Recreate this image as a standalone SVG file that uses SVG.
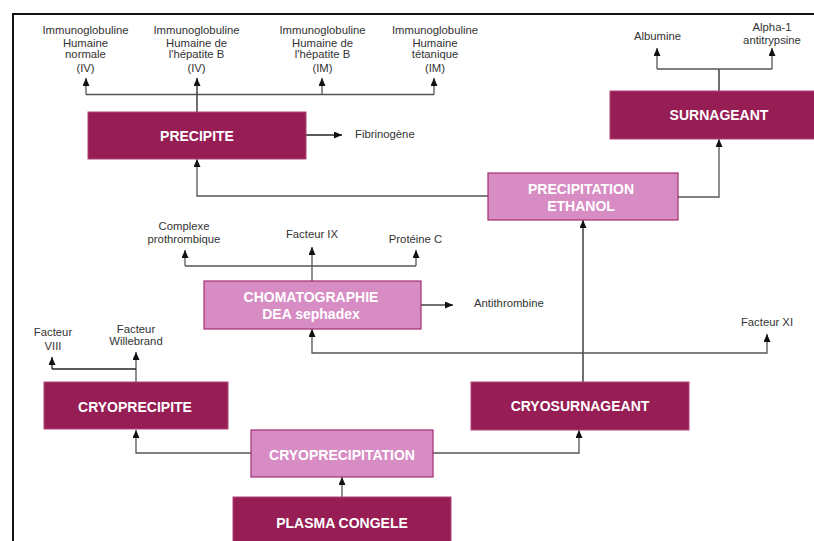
<svg xmlns="http://www.w3.org/2000/svg" width="814" height="541" viewBox="0 0 814 541">
<style>
.bg{fill:#ffffff}
.frame{fill:none;stroke:#111;stroke-width:2}
.dark{fill:#971d55;stroke:#b0457a;stroke-width:1}
.light{fill:#d78cc4;stroke:#a62d72;stroke-width:1.2}
.bt{font-family:"Liberation Sans",Arial,sans-serif;font-weight:bold;font-size:14px;fill:#ffffff;text-anchor:middle}
.lt{font-family:"Liberation Sans",Arial,sans-serif;font-size:11.3px;fill:#333333;text-anchor:middle}
.ls{text-anchor:start}
.c{fill:none;stroke:#555555;stroke-width:1.3}
.ca{fill:none;stroke:#555555;stroke-width:1.3;marker-end:url(#ah)}
.dk{stroke:#222222}
</style>
<defs>
<marker id="ah" viewBox="0 0 8 7" refX="8" refY="3.5" markerWidth="8" markerHeight="7" markerUnits="userSpaceOnUse" orient="auto">
<path d="M0,0 L8,3.5 L0,7 z" fill="#111"/>
</marker>
</defs>
<rect class="bg" x="0" y="0" width="814" height="541"/>
<path class="frame" d="M814,14 H13 V541"/>

<g id="connectors">
<!-- PRECIPITE outputs -->
<path class="c dk" d="M197,112 V94.5"/>
<path class="c" d="M86,94.5 H434"/>
<path class="ca" d="M86,94.5 V78"/>
<path class="ca dk" d="M197,94.5 V78"/>
<path class="ca" d="M322,94.5 V78"/>
<path class="ca" d="M434,94.5 V78"/>
<path class="ca dk" d="M306,135 H342"/>
<!-- SURNAGEANT outputs -->
<path class="c dk" d="M719,91 V69"/>
<path class="c" d="M657,69 H772"/>
<path class="ca" d="M657,69 V48"/>
<path class="ca" d="M772,69 V48"/>
<!-- Precipitation ethanol -->
<path class="ca" d="M678,197 H719 V139"/>
<path class="ca" d="M488,196 H197 V159"/>
<path class="ca dk" d="M583,382 V220"/>
<!-- Chromatographie outputs -->
<path class="ca" d="M312,281 V247"/>
<path class="c" d="M185,266 H416"/>
<path class="ca" d="M185,266 V250"/>
<path class="ca" d="M416,266 V250"/>
<path class="ca dk" d="M421,305 H453"/>
<path class="ca" d="M583,353 H312 V329"/>
<path class="ca" d="M583,353 H767 V334"/>
<!-- Cryoprecipite outputs -->
<path class="ca" d="M136,382 V352"/>
<path class="c dk" d="M52,369 H136"/>
<path class="ca dk" d="M52,369 V357"/>
<!-- Cryoprecipitation -->
<path class="ca" d="M251,453 H136 V430"/>
<path class="ca" d="M433,453 H579 V430"/>
<path class="ca" d="M342,497 V477"/>
</g>

<g id="precipite">
<rect class="dark" x="88" y="112" width="218" height="47"/>
<text class="bt" x="197" y="141">PRECIPITE</text>
</g>
<g id="surnageant">
<rect class="dark" x="610" y="91" width="210" height="48"/>
<text class="bt" x="719" y="120">SURNAGEANT</text>
</g>
<g id="precipitation-ethanol">
<rect class="light" x="488" y="173" width="190" height="47"/>
<text class="bt" x="581" y="194">PRECIPITATION</text>
<text class="bt" x="581" y="211">ETHANOL</text>
</g>
<g id="chromatographie">
<rect class="light" x="204" y="281" width="217" height="48"/>
<text class="bt" x="311" y="302">CHOMATOGRAPHIE</text>
<text class="bt" x="311" y="319">DEA sephadex</text>
</g>
<g id="cryoprecipite">
<rect class="dark" x="44" y="382" width="184" height="47"/>
<text class="bt" x="135" y="412">CRYOPRECIPITE</text>
</g>
<g id="cryosurnageant">
<rect class="dark" x="471" y="382" width="218" height="48"/>
<text class="bt" x="580" y="411">CRYOSURNAGEANT</text>
</g>
<g id="cryoprecipitation">
<rect class="light" x="251" y="430" width="182" height="47"/>
<text class="bt" x="342" y="460">CRYOPRECIPITATION</text>
</g>
<g id="plasma-congele">
<rect class="dark" x="233" y="497" width="218" height="50"/>
<text class="bt" x="342" y="528">PLASMA CONGELE</text>
</g>

<g id="ig-normale">
<text class="lt" x="85.5" y="34">Immunoglobuline</text>
<text class="lt" x="85.5" y="47">Humaine</text>
<text class="lt" x="85.5" y="58">normale</text>
<text class="lt" x="85.5" y="72">(IV)</text>
</g>
<g id="ig-hepatite-iv">
<text class="lt" x="196.5" y="34">Immunoglobuline</text>
<text class="lt" x="196.5" y="47">Humaine de</text>
<text class="lt" x="196.5" y="58">l'hépatite B</text>
<text class="lt" x="196.5" y="72">(IV)</text>
</g>
<g id="ig-hepatite-im">
<text class="lt" x="322.5" y="34">Immunoglobuline</text>
<text class="lt" x="322.5" y="47">Humaine de</text>
<text class="lt" x="322.5" y="58">l'hépatite B</text>
<text class="lt" x="322.5" y="72">(IM)</text>
</g>
<g id="ig-tetanique">
<text class="lt" x="435" y="34">Immunoglobuline</text>
<text class="lt" x="435" y="47">Humaine</text>
<text class="lt" x="435" y="58">tétanique</text>
<text class="lt" x="435" y="72">(IM)</text>
</g>
<g id="fibrinogene"><text class="lt ls" x="355" y="138">Fibrinogène</text></g>
<g id="albumine"><text class="lt" x="657.5" y="40">Albumine</text></g>
<g id="alpha1">
<text class="lt" x="772" y="31">Alpha-1</text>
<text class="lt" x="772" y="44">antitrypsine</text>
</g>
<g id="complexe">
<text class="lt" x="184" y="230">Complexe</text>
<text class="lt" x="184" y="243">prothrombique</text>
</g>
<g id="facteur-ix"><text class="lt" x="312" y="238">Facteur IX</text></g>
<g id="proteine-c"><text class="lt" x="415.5" y="243">Protéine C</text></g>
<g id="antithrombine"><text class="lt ls" x="474" y="307">Antithrombine</text></g>
<g id="facteur-xi"><text class="lt" x="767" y="326">Facteur XI</text></g>
<g id="facteur-viii">
<text class="lt" x="53" y="336">Facteur</text>
<text class="lt" x="53" y="349.5">VIII</text>
</g>
<g id="facteur-willebrand">
<text class="lt" x="136" y="333">Facteur</text>
<text class="lt" x="136" y="345">Willebrand</text>
</g>
</svg>
